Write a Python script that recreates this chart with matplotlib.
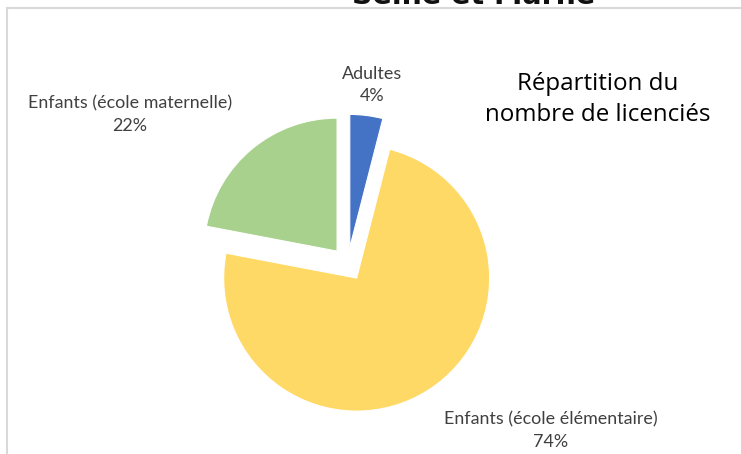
import matplotlib
matplotlib.use("Agg")
import matplotlib.pyplot as plt
from matplotlib.lines import Line2D

categories = ["Adultes", "Enfants (école élémentaire)", "Enfants (école maternelle)"]
values = [4, 74, 22]
pct_labels = ["4%", "74%", "22%"]
colors = ["#4472C4", "#FFD966", "#A9D18E"]
title = "Répartition du\nnombre de licenciés"
banner = "Seine et Marne"

W, H = 741, 454
fig = plt.figure(figsize=(W / 100, H / 100), dpi=100)
ax = fig.add_axes([0, 0, 1, 1])
ax.set_xlim(0, W)
ax.set_ylim(0, H)
ax.set_aspect("equal")
ax.axis("off")

ax.pie(values, colors=colors, startangle=90, counterclock=False,
       center=(347.7, H - 264), radius=133, explode=[16.7, 16.7, 16.7],
       wedgeprops=dict(edgecolor="white", linewidth=0.8), frame=False)
ax.set_xlim(0, W)
ax.set_ylim(0, H)

lab_font = "Lato"
lab_col = "#404040"
label_pos = [(372, H - 85), (551, H - 430.5), (130, H - 115)]
for cat, pct, (x, y) in zip(categories, pct_labels, label_pos):
    ax.text(x, y, f"{cat}\n{pct}", ha="center", va="center", fontsize=12.9,
            color=lab_col, family=lab_font, linespacing=1.5)

ax.text(598, H - 99.5, title, ha="center", va="center", fontsize=17.4,
        color="#000000", family="Open Sans", linespacing=1.36)

# frame of the chart area
ax.add_line(Line2D([7, W], [H - 8, H - 8], color="#D9D9D9", lw=1.5))
ax.add_line(Line2D([7, 7], [H - 8, 0], color="#D9D9D9", lw=1.5))

# banner text clipped at top
ax.text(352, H - 4, banner, ha="left", va="baseline", fontsize=20.5,
        fontweight="bold", color="#111111", family="DejaVu Sans", clip_on=False)

fig.savefig("out.png", dpi=100)
